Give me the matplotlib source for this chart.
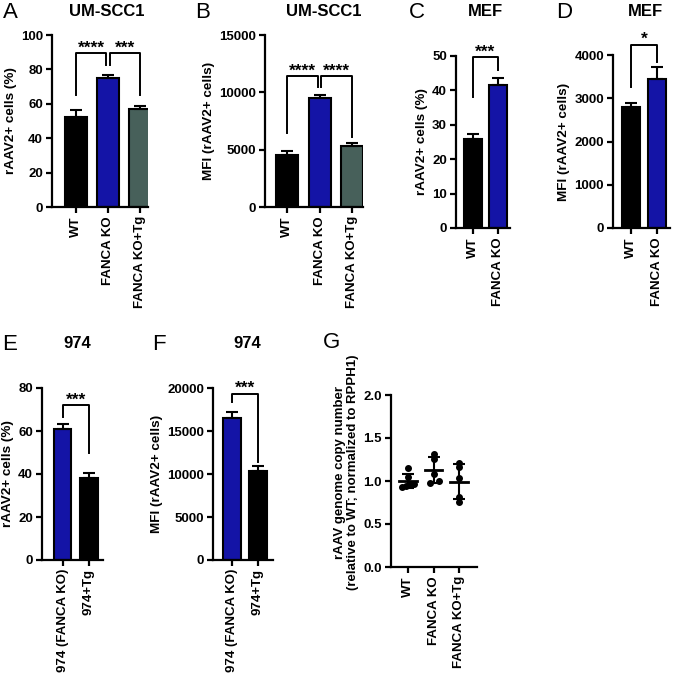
import numpy as np
import matplotlib
matplotlib.use('Agg')
import matplotlib.pyplot as plt

plt.rcParams['font.family'] = ['Liberation Sans', 'DejaVu Sans']
plt.rcParams['font.weight'] = 'bold'

# DATA

cats_scc = ['WT', 'FANCA KO', 'FANCA KO+Tg']
scc_pct = [52.5, 75.0, 57.0]
scc_pct_err = [3.8, 1.8, 1.5]
scc_mfi = [4500, 9500, 5300]
scc_mfi_err = [380, 250, 300]

cats_mef = ['WT', 'FANCA KO']
mef_pct = [26.0, 41.5]
mef_pct_err = [1.3, 2.0]
mef_mfi = [2800, 3450]
mef_mfi_err = [90, 270]

cats_974 = ['974 (FANCA KO)', '974+Tg']
c974_pct = [61.0, 38.0]
c974_pct_err = [2.2, 2.5]
c974_mfi = [16500, 10400]
c974_mfi_err = [750, 500]

cats_g = ['WT', 'FANCA KO', 'FANCA KO+Tg']
g_wt = [1.15, 1.05, 0.93, 0.94, 0.96, 0.97]
g_ko = [1.31, 1.26, 1.08, 1.00, 0.98]
g_tg = [1.21, 1.16, 1.03, 0.81, 0.76]
# small sideways spread for overlapping dots, as in the scatter
g_wt_dx = [0, 0, -0.25, -0.08, 0.08, 0.25]
g_ko_dx = [0, 0, 0, 0.2, -0.15]
g_tg_dx = [0, 0, 0, 0, 0]

BLACK = '#000000'
BLUE = '#1414a6'
GREY = '#47605a'

W, H = 675, 673
fig = plt.figure(figsize=(W / 100, H / 100), dpi=100)


def px_axes(x0, x1, ytop, ybot):
    return fig.add_axes([x0 / W, 1 - ybot / H, (x1 - x0) / W, (ybot - ytop) / H])


def style(ax, ymax, ystep, xlim, cats):
    for s in ['top', 'right']:
        ax.spines[s].set_visible(False)
    for s in ['left', 'bottom']:
        ax.spines[s].set_linewidth(1.6)
    ax.set_ylim(0, ymax)
    ax.set_yticks(np.arange(0, ymax + ystep / 2, ystep))
    ax.set_xlim(*xlim)
    ax.set_xticks(range(len(cats)))
    ax.set_xticklabels(cats, rotation=90)
    ax.tick_params(width=1.6, length=4.5, labelsize=9.5, pad=2)
    for lab in ax.get_xticklabels() + ax.get_yticklabels():
        lab.set_fontweight('bold')


def bars(ax, vals, errs, colors, width):
    x = np.arange(len(vals))
    ax.bar(x, vals, width=width, color=colors, edgecolor='black', linewidth=1.5, zorder=2)
    ax.errorbar(x, vals, yerr=[np.zeros(len(vals)), errs], fmt='none', ecolor='black',
                elinewidth=1.5, capsize=4.5, capthick=1.5, zorder=3)


def bracket(ax, x1, x2, y1, y2, top, label, off):
    ax.plot([x1, x1, x2, x2], [y1, top, top, y2], color='black', lw=1.4, clip_on=False)
    ax.text((x1 + x2) / 2, top + off, label, ha='center', va='bottom', fontsize=12.5,
            fontweight='bold', clip_on=False)


# A
axA = px_axes(52, 148, 35, 207)
bars(axA, scc_pct, scc_pct_err, [BLACK, BLUE, GREY], 0.68)
style(axA, 100, 20, (-0.75, 2.25), cats_scc)
axA.set_ylabel('rAAV2+ cells (%)', fontsize=9.7, fontweight='bold', labelpad=3)
bracket(axA, 0, 0.95, 65, 82.5, 89.5, '****', -1.5)
bracket(axA, 1.05, 2, 82.5, 65, 89.5, '***', -1.5)

# B
axB = px_axes(265, 363, 35, 207)
bars(axB, scc_mfi, scc_mfi_err, [BLACK, BLUE, GREY], 0.68)
style(axB, 15000, 5000, (-0.68, 2.33), cats_scc)
axB.set_ylabel('MFI (rAAV2+ cells)', fontsize=9.7, fontweight='bold', labelpad=3)
bracket(axB, 0, 0.95, 6450, 10460, 11420, '****', -200)
bracket(axB, 1.05, 2, 10460, 6100, 11420, '****', -200)

# C
axC = px_axes(456, 510, 56, 228)
bars(axC, mef_pct, mef_pct_err, [BLACK, BLUE], 0.72)
style(axC, 50, 10, (-0.68, 1.48), cats_mef)
axC.set_ylabel('rAAV2+ cells (%)', fontsize=9.7, fontweight='bold', labelpad=3)
bracket(axC, 0, 1, 38, 46, 49.6, '***', -0.7)

# D
axD = px_axes(613, 670, 55, 228)
bars(axD, mef_mfi, mef_mfi_err, [BLACK, BLUE], 0.66)
style(axD, 4000, 1000, (-0.69, 1.5), cats_mef)
axD.set_ylabel('MFI (rAAV2+ cells)', fontsize=9.7, fontweight='bold', labelpad=3)
bracket(axD, 0, 1, 3260, 3840, 4230, '*', -50)

# E
axE = px_axes(42, 103, 388, 560)
bars(axE, c974_pct, c974_pct_err, [BLUE, BLACK], 0.66)
style(axE, 80, 20, (-0.8, 1.54), cats_974)
axE.set_ylabel('rAAV2+ cells (%)', fontsize=9.7, fontweight='bold', labelpad=3)
bracket(axE, 0, 1, 66.5, 50, 72, '***', -1.0)

# F
axF = px_axes(213, 273, 388, 560)
bars(axF, c974_mfi, c974_mfi_err, [BLUE, BLACK], 0.66)
style(axF, 20000, 5000, (-0.73, 1.58), cats_974)
axF.set_ylabel('MFI (rAAV2+ cells)', fontsize=9.7, fontweight='bold', labelpad=3)
bracket(axF, 0, 1, 18400, 11400, 19300, '***', -250)

# G
axG = px_axes(391, 477, 395, 567)
for i, (pts, dx) in enumerate([(g_wt, g_wt_dx), (g_ko, g_ko_dx), (g_tg, g_tg_dx)]):
    pts = np.array(pts)
    m, sd = pts.mean(), pts.std(ddof=1)
    axG.plot(i + np.array(dx), pts, 'o', color='black', ms=4, zorder=3)
    axG.plot([i - 0.34, i + 0.34], [m, m], color='black', lw=2, zorder=4)
    axG.errorbar(i, m, yerr=sd, fmt='none', ecolor='black', elinewidth=1.5,
                 capsize=4, capthick=1.5, zorder=4)
style(axG, 2.0, 0.5, (-0.67, 2.7), cats_g)
axG.set_yticklabels(['0.0', '0.5', '1.0', '1.5', '2.0'])
axG.set_ylabel('rAAV genome copy number\n(relative to WT; normalized to RPPH1)',
               fontsize=9.5, fontweight='bold', labelpad=3, linespacing=1.1)
axG.yaxis.set_label_coords(-0.37, 0.55)

# panel titles and letters
titles = [('UM-SCC1', 107, 12), ('UM-SCC1', 324, 12), ('MEF', 485, 12), ('MEF', 645, 12),
          ('974', 77, 344), ('974', 247, 344)]
for t, x, y in titles:
    fig.text(x / W, 1 - y / H, t, ha='center', va='center', fontsize=12, fontweight='bold')

letters = [('A', 3, 12), ('B', 195, 12), ('C', 409, 12), ('D', 556, 12),
           ('E', 2, 344), ('F', 152, 344), ('G', 323, 343)]
for t, x, y in letters:
    fig.text(x / W, 1 - y / H, t, ha='left', va='center', fontsize=16, fontweight='normal')

fig.savefig('out.png', dpi=100)
